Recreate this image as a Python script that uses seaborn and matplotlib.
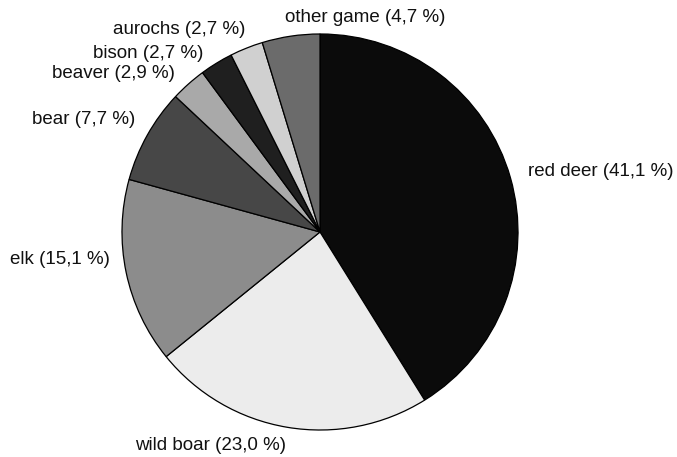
import matplotlib
matplotlib.use("Agg")
import matplotlib.pyplot as plt
import seaborn as sns

species = ['red deer', 'wild boar', 'elk', 'bear', 'beaver', 'bison', 'aurochs', 'other game']
shares = [41.1, 23.0, 15.1, 7.7, 2.9, 2.7, 2.7, 4.7]
greys = ['#0b0b0b', '#ececec', '#8c8c8c', '#474747', '#a9a9a9', '#1f1f1f', '#d0d0d0', '#6b6b6b']

# label anchors in figure pixels (x, y from top, horizontal alignment)
label_pos = [(528, 172, 'left'), (135, 445, 'left'), (110, 260, 'right'), (135, 120, 'right'),
             (175, 73, 'right'), (203, 53, 'right'), (245, 29, 'right'), (285, 18, 'left')]

sns.set_style("white")
plt.rcParams['font.family'] = ['Liberation Sans', 'DejaVu Sans']

W, H = 677, 457
cx, cy, r = 320, 232, 199
fig = plt.figure(figsize=(W / 100, H / 100), dpi=100)
ax = fig.add_axes([(cx - r) / W, (H - cy - r) / H, 2 * r / W, 2 * r / H])

ax.pie(shares, colors=greys, startangle=90, counterclock=False, radius=1,
       wedgeprops={'edgecolor': 'black', 'linewidth': 0.9})
ax.set_xlim(-1.005, 1.005)
ax.set_ylim(-1.005, 1.005)
ax.axis('off')

for name, val, (x, y, ha) in zip(species, shares, label_pos):
    txt = f"{name} ({val:.1f} %)".replace('.', ',')
    fig.text(x / W, 1 - y / H, txt, ha=ha, va='center', fontsize=13.5, color='#111111')

fig.savefig('out.png', dpi=100, facecolor='white')
